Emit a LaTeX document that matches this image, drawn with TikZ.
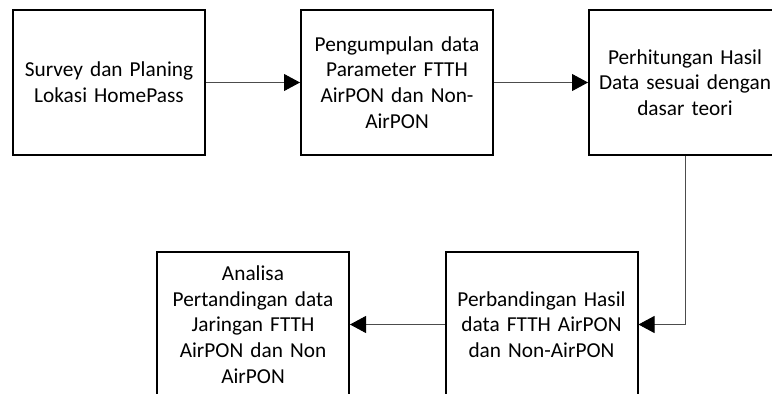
\documentclass[tikz,border=0pt]{standalone}
\usepackage{fontspec}
\setmainfont{Carlito}
\usetikzlibrary{arrows.meta}
\begin{document}
\begin{tikzpicture}[x=1pt,y=-1pt,
  box/.style={draw=black,line width=2pt,minimum width=192pt,minimum height=145pt,inner sep=0pt,align=center,font=\fontsize{21.3}{25.8}\selectfont,text width=188pt},
  conn/.style={draw=black!70,line width=0.9pt,-{Triangle[length=16pt,width=17pt,fill=black,color=black]}}]
\useasboundingbox (0,0) rectangle (772,394);
\clip (0,0) rectangle (772,394);
\node[box] (b1) at (109,82.5) {Survey dan Planing\\Lokasi HomePass};
\node[box] (b2) at (397,82.5) {Pengumpulan data\\Parameter FTTH\\AirPON dan Non-\\AirPON};
\node[box] (b3) at (685,82.5) {Perhitungan Hasil\\Data sesuai dengan\\dasar teori};
\node[box] (b5) at (541.5,324.5) {Perbandingan Hasil\\data FTTH AirPON\\dan Non-AirPON};
\node[box] (b4) at (253,324.5) {Analisa\\Pertandingan data\\Jaringan FTTH\\AirPON dan Non\\AirPON};
\draw[conn] (b1) -- (b2);
\draw[conn] (b2) -- (b3);
\draw[conn] (b3.south) |- (b5.east);
\draw[conn] (b5) -- (b4);
\end{tikzpicture}
\end{document}
